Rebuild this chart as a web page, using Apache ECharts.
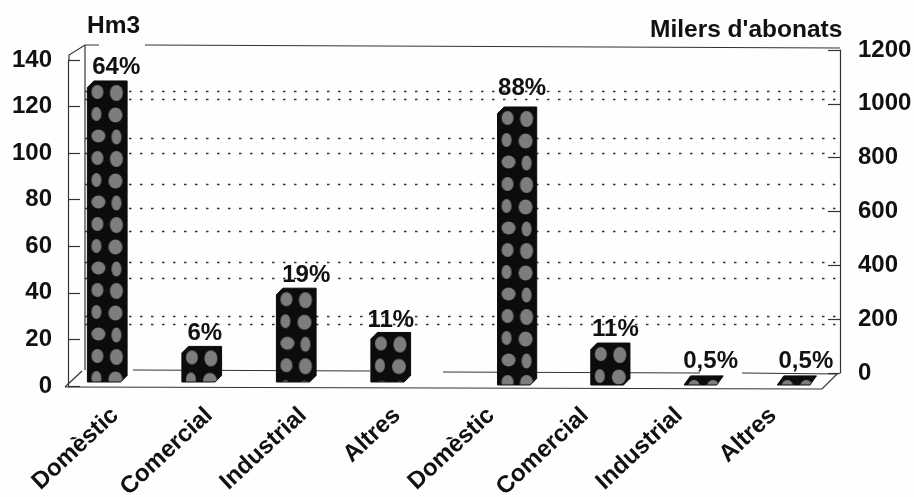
<!DOCTYPE html>
<html><head><meta charset="utf-8">
<style>html,body{margin:0;padding:0;background:#fff}#c{width:914px;height:497px}</style>
<script src="https://cdn.jsdelivr.net/npm/echarts@6/dist/echarts.min.js"></script>
</head><body><div id="c"></div>
<script>
const categories = ["Domèstic","Comercial","Industrial","Altres","Domèstic","Comercial","Industrial","Altres"];
const volumeCategories = ["Domèstic","Comercial","Industrial","Altres"];
const subscriberCategories = ["Domèstic","Comercial","Industrial","Altres"];
const volumeValues = [131, 17, 42, 23];
const subscriberValues = [1044, 167, 45, 45];
const volumeShares = ["64%","6%","19%","11%"];
const subscriberShares = ["88%","11%","0,5%","0,5%"];
const leftTitle = "Hm3";
const rightTitle = "Milers d'abonats";

const FONT = '"Liberation Sans", Arial, sans-serif';
const INK = '#111';
const volumeLabelShift = [[9,-14],[3,-13],[10,-13],[0,-12]];
const subscriberLabelShift = [[5,-19],[5,-14],[7,-15],[9,-15]];

const tile = document.createElement('canvas');
tile.width = 38; tile.height = 66;
(function(){
  const g = tile.getContext('2d');
  g.fillStyle = '#0c0c0c'; g.fillRect(0,0,38,66);
  g.fillStyle = '#7d7d7d';
  const blobs = [[10,11,6,7],[29,12,6.5,8],[9,33,5,7],[28,34,7,7.5],[11,55,7,6.5],[29,56,5,7.5]];
  blobs.forEach(b=>{g.beginPath();g.ellipse(b[0],b[1],b[2],b[3],0,0,Math.PI*2);g.fill();});
})();

function barSeries(values, shares, shifts, axisIdx, yIdx, baseLift){
  return {
    type:'custom', xAxisIndex:axisIdx, yAxisIndex:yIdx, z:5, silent:true,
    encode:{x:0,y:1},
    data: values.map((v,i)=>[i,v,shares[i]]),
    renderItem(params, api){
      const top = api.coord([api.value(0), api.value(1)]);
      const base = api.coord([api.value(0), 0]);
      const w = api.size([1,0])[0]*0.42;
      const x0 = top[0]-w/2;
      const yT = top[1];
      const h = base[1]-baseLift-yT;
      const d = 6.5;
      const pts = h < 2*d
        ? [[0,h],[d,0],[w,0],[w-d,h]]
        : [[0,d],[d,0],[w,0],[w,h-d],[w-d,h],[0,h]];
      const s = shifts[params.dataIndex];
      return {type:'group',children:[
        {type:'polygon', x:x0, y:yT,
         shape:{points:pts},
         style:{fill:{image:tile,repeat:'repeat'},stroke:'#0c0c0c',lineWidth:1}},
        {type:'text', x:top[0]+s[0], y:yT+s[1],
         style:{text:api.value(2),fill:INK,font:'bold 24px '+FONT,textAlign:'center',textVerticalAlign:'middle'}}
      ]};
    }
  };
}

const hiddenX = (gridIndex,data)=>({type:'category',gridIndex,data,show:false});
const wall = (gridIndex,position,max,interval)=>({
  type:'value',gridIndex,position,min:0,max,interval,
  axisLine:{show:false},axisTick:{show:false},axisLabel:{show:false},
  splitLine:{show:true,showMinLine:false,showMaxLine:false,lineStyle:{color:'#333',type:[2.5,8.5],width:1.3}}
});
const ruled = (gridIndex,position,max,interval,margin)=>({
  type:'value',gridIndex,position,min:0,max,interval,
  axisLine:{show:true,onZero:false,lineStyle:{color:'#333',width:1.2}},
  axisTick:{show:true,inside:true,length:12,lineStyle:{color:'#333',width:1.2}},
  axisLabel:{color:INK,fontFamily:FONT,fontWeight:'bold',fontSize:24,margin,padding:[4,0,0,0],formatter:v=>String(v)},
  splitLine:{show:false}
});
const frameLines = [
  [[65,387],[822,389],[837,374]],
  [[65,387],[82,371]],
  [[69,60],[69,55],[85,45],[99,45]],
  [[85,45],[85,370]],
  [[145,45],[840,48]],
  [[133,370],[370,371]],
  [[443,372],[700,373]],
  [[742,373],[838,374]]
];

const chart = echarts.init(document.getElementById('c'),null,{renderer:'canvas'});
chart.setOption({
  animation:false,
  backgroundColor:'#fefefe',
  title:[
    {text:leftTitle,left:87,top:14,padding:0,textStyle:{color:INK,fontFamily:FONT,fontWeight:'bold',fontSize:24.5}},
    {text:rightTitle,left:650,top:18,padding:0,textStyle:{color:INK,fontFamily:FONT,fontWeight:'bold',fontSize:24.5}}
  ],
  grid:[
    {left:68,width:752,top:60,height:326,outerBoundsMode:'none'},
    {left:85,width:753,top:45,height:326,outerBoundsMode:'none'},
    {left:100,width:740,top:50,height:323,outerBoundsMode:'none'},
    {left:60,width:378,top:60,height:326,outerBoundsMode:'none'},
    {left:470.5,width:373,top:65,height:323,outerBoundsMode:'none'}
  ],
  xAxis:[
    {type:'category',gridIndex:0,data:categories,
     axisLine:{show:false},axisTick:{show:false},
     axisLabel:{interval:0,rotate:43,color:INK,fontFamily:FONT,fontWeight:'bold',fontSize:24,margin:26}},
    hiddenX(1,['']),hiddenX(2,['']),
    hiddenX(3,volumeCategories),hiddenX(4,subscriberCategories)
  ],
  yAxis:[
    ruled(0,'left',140,20,16),
    wall(1,'left',140,20),
    wall(1,'right',1200,200),
    ruled(2,'right',1200,200,18),
    {type:'value',gridIndex:3,min:0,max:140,show:false},
    {type:'value',gridIndex:4,min:0,max:1200,show:false}
  ],
  graphic:frameLines.map(points=>({type:'polyline',z:1,silent:true,shape:{points},style:{stroke:'#333',lineWidth:1.2,fill:null}})),
  series:[
    barSeries(volumeValues,volumeShares,volumeLabelShift,3,4,4),
    barSeries(subscriberValues,subscriberShares,subscriberLabelShift,4,5,3)
  ]
});
</script></body></html>
